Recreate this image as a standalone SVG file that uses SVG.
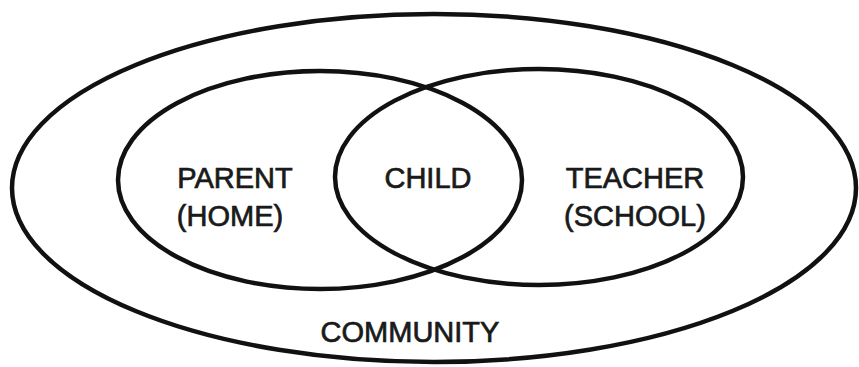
<svg xmlns="http://www.w3.org/2000/svg" width="859" height="367" viewBox="0 0 859 367">
<style>
.ring{fill:none;stroke:#111;stroke-width:4.5}
.lbl{font-family:"Liberation Sans",Arial,sans-serif;font-size:29px;fill:#1a1a1a;stroke:#1a1a1a;stroke-width:0.7;text-anchor:middle}
</style>
<rect width="859" height="367" fill="#fff"/>
<g id="community">
<ellipse class="ring" cx="434" cy="188" rx="422" ry="174"/>
<text class="lbl" x="410" y="342">COMMUNITY</text>
</g>
<g id="parent">
<ellipse class="ring" cx="320" cy="180" rx="202" ry="109"/>
<text class="lbl" x="235" y="188">PARENT</text>
<text class="lbl" x="230" y="226">(HOME)</text>
</g>
<g id="teacher">
<ellipse class="ring" cx="539" cy="177" rx="204" ry="108"/>
<text class="lbl" x="635" y="188">TEACHER</text>
<text class="lbl" x="635" y="226">(SCHOOL)</text>
</g>
<g id="child">
<text class="lbl" x="428" y="188">CHILD</text>
</g>
<g id="connectors"/>
</svg>
